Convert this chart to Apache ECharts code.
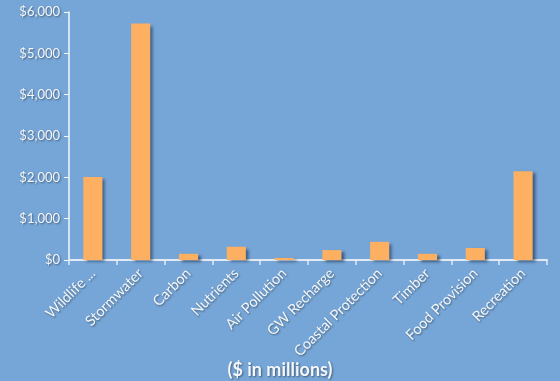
<!doctype html>
<html>
<head>
    <meta charset="utf-8">
    <title>Ecosystem service values</title>
    <script src="https://cdn.jsdelivr.net/npm/echarts@6/dist/echarts.min.js"></script>
    <style>
        html, body { margin: 0; padding: 0; background: #76a6d7; }
    </style>
</head>
<body>
    <div id="container" style="width:560px;height:381px;"></div>
    <script type="text/javascript">
        // categories and values ($ in millions)
        var categories = ['Wildlife ...', 'Stormwater', 'Carbon', 'Nutrients', 'Air Pollution',
            'GW Recharge', 'Coastal Protection', 'Timber', 'Food Provision', 'Recreation'];
        var values = [2010, 5720, 150, 320, 50, 240, 440, 150, 290, 2150];
        var yTicks = [0, 1000, 2000, 3000, 4000, 5000, 6000];

        var txt = {
            color: '#f4f7fb',
            fontFamily: 'Lato, "Open Sans", sans-serif',
            fontSize: 13,
            textShadowColor: 'rgba(0,0,0,0.45)',
            textShadowBlur: 2,
            textShadowOffsetX: 1,
            textShadowOffsetY: 1
        };

        var myChart = echarts.init(document.getElementById('container'));
        var option = {
            backgroundColor: '#76a6d7',
            animation: false,
            title: {
                text: '($ in millions)',
                left: 'center',
                top: 356,
                textStyle: Object.assign({}, txt, { fontSize: 18, fontWeight: 'bold' })
            },
            grid: { left: 69, right: 13, top: 12, bottom: 121, containLabel: false },
            xAxis: {
                type: 'category',
                data: categories,
                axisLine: { lineStyle: { color: '#e3e9f2', width: 2 } },
                axisTick: { show: true, length: 5, lineStyle: { color: '#e3e9f2', width: 1.5 } },
                axisLabel: Object.assign({}, txt, { fontSize: 14.5, rotate: 45, margin: 11, interval: 0 })
            },
            yAxis: {
                type: 'value',
                min: 0,
                max: yTicks[yTicks.length - 1],
                interval: 1000,
                splitLine: { show: false },
                axisLine: { show: true, lineStyle: { color: '#f4f7fb', width: 1.5 } },
                axisTick: { show: true, length: 5, lineStyle: { color: '#f4f7fb' } },
                axisLabel: Object.assign({}, txt, {
                    margin: 9,
                    formatter: function (v) { return '$' + v.toLocaleString('en-US'); }
                })
            },
            series: [{
                type: 'bar',
                data: values,
                barWidth: '40%',
                itemStyle: {
                    color: '#fdb062',
                    shadowColor: 'rgba(20,40,70,0.6)',
                    shadowBlur: 3,
                    shadowOffsetX: 3,
                    shadowOffsetY: 2
                }
            }]
        };
        myChart.setOption(option);
    </script>
</body>
</html>
